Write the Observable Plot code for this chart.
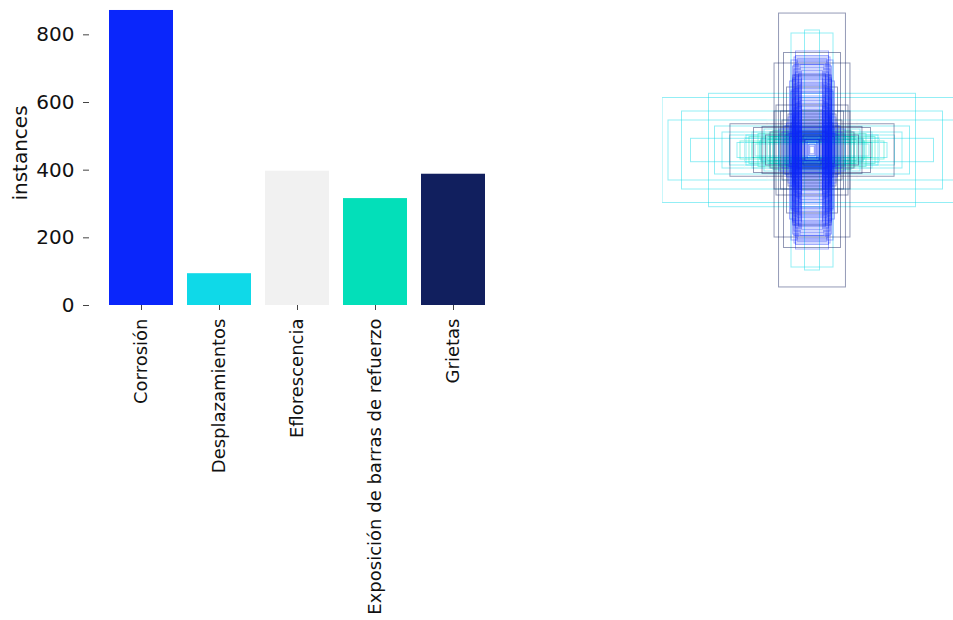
<!DOCTYPE html>
<html>
<head>
<meta charset="utf-8">
<script src="https://cdn.jsdelivr.net/npm/d3@7"></script>
<script src="https://cdn.jsdelivr.net/npm/@observablehq/plot@0.6"></script>
<style>
  html, body { margin: 0; padding: 0; background: #fff; overflow: hidden; }
  #wrap { position: relative; width: 953px; height: 620px; overflow: hidden; }
  #bars { position: absolute; left: 0; top: 0; width: 510px; }
  #boxes { position: absolute; left: 662px; top: 0; width: 300px; height: 300px; }
  #wrap svg { display: block; max-width: none; }
</style>
</head>
<body>
<div id="wrap"><div id="bars"></div><div id="boxes"></div></div>
<script>
// Label classes and their instance counts
const categories = ["Corrosión", "Desplazamientos", "Eflorescencia", "Exposición de barras de refuerzo", "Grietas"];
const instances = [872, 94, 397, 316, 388];
const classColors = ["#0a26fb", "#0fd9e8", "#f1f1f1", "#03dfb9", "#111f5e"];
const yTicks = [0, 200, 400, 600, 800];

// Bounding-box sizes (fraction of image width / height), all centred on the image
const boxClass = [
  // Desplazamientos
  1,1,1,1,1,1,1,1,1,1,1,1,1,1,1,1,1,1,1,1,1,1,1,1,1,1,
  // Exposición de barras de refuerzo
  3,3,3,3,3,3,3,3,3,3,
  // Eflorescencia
  2,2,2,2,
  // Grietas
  4,4,4,4,4,4,4,4,4,4,4,4,4,4,4,4,4,4,4,4,4,4,4,4,4,4,4,4,
  // Corrosión
  0,0,0,0,0,0,0,0,0,0,0,0,0,0,0,0,0,0,0,0,
  0,0,0,0,0,0,0,0,0,0,0,0,0,0,0,0,0,0,0,0,
  0,0,0,0,0,0,0,0,0,0,0,0,0,0,0,0,0,0,0,0,
  0,0,0,0,0,0,0,0,0,0,0,0,0,0,0,0,0,0,0,0,
  0,0,0,0,0,0,0,0
];
const boxW = [
  1.00, 0.69, 0.81, 0.96, 0.65, 0.05, 0.14, 0.55, 0.45, 0.40, 0.35, 0.30, 0.28, 0.25, 0.22, 0.20, 0.50, 0.60, 0.18, 0.32, 0.38, 0.87, 0.44, 0.34, 0.26, 0.16,
  0.42, 0.36, 0.30, 0.26, 0.48, 0.22, 0.34, 0.17, 0.40, 0.28,
  0.30, 0.20, 0.45, 0.15,
  0.223, 0.253, 0.19, 0.253, 0.39, 0.333, 0.547, 0.20, 0.16, 0.28, 0.24, 0.17, 0.12, 0.31, 0.10, 0.14, 0.08, 0.12, 0.18, 0.09, 0.21, 0.11,
  0.07, 0.06, 0.13, 0.15, 0.10, 0.05,
  0.12, 0.10, 0.09, 0.14, 0.08, 0.11, 0.13, 0.07, 0.10, 0.12, 0.09, 0.14, 0.08, 0.11, 0.13, 0.10, 0.07, 0.12, 0.09, 0.11,
  0.13, 0.08, 0.10, 0.12, 0.14, 0.09, 0.11, 0.16, 0.18, 0.20, 0.15, 0.17, 0.06, 0.05, 0.08, 0.10, 0.12, 0.22, 0.19, 0.13,
  0.15, 0.12, 0.09, 0.11, 0.10, 0.08, 0.12, 0.09, 0.11, 0.13, 0.10, 0.12, 0.14, 0.09, 0.08, 0.11, 0.10, 0.07, 0.12, 0.13,
  0.015, 0.025, 0.035, 0.045, 0.09, 0.16, 0.14, 0.12, 0.10, 0.08, 0.11, 0.13, 0.15, 0.09, 0.10, 0.12, 0.07, 0.11, 0.13, 0.08,
  0.02, 0.03, 0.04, 0.06, 0.07, 0.05, 0.09, 0.11
];
const boxH = [
  0.35, 0.378, 0.078, 0.20, 0.16, 0.80, 0.78, 0.10, 0.08, 0.12, 0.06, 0.09, 0.05, 0.07, 0.11, 0.06, 0.05, 0.12, 0.08, 0.14, 0.04, 0.26, 0.10, 0.07, 0.09, 0.05,
  0.09, 0.11, 0.07, 0.13, 0.06, 0.10, 0.08, 0.12, 0.05, 0.09,
  0.20, 0.30, 0.12, 0.40,
  0.913, 0.58, 0.65, 0.26, 0.15, 0.157, 0.175, 0.20, 0.24, 0.12, 0.30, 0.42, 0.50, 0.10, 0.14, 0.18, 0.10, 0.22, 0.16, 0.12, 0.26, 0.20,
  0.08, 0.10, 0.06, 0.09, 0.12, 0.07,
  0.62, 0.60, 0.58, 0.60, 0.55, 0.52, 0.50, 0.48, 0.45, 0.44, 0.42, 0.40, 0.38, 0.36, 0.34, 0.32, 0.30, 0.28, 0.26, 0.24,
  0.22, 0.20, 0.18, 0.16, 0.14, 0.13, 0.12, 0.11, 0.10, 0.12, 0.15, 0.18, 0.10, 0.08, 0.06, 0.07, 0.08, 0.14, 0.16, 0.56,
  0.46, 0.38, 0.50, 0.66, 0.59, 0.57, 0.54, 0.51, 0.49, 0.47, 0.43, 0.41, 0.39, 0.35, 0.33, 0.31, 0.29, 0.27, 0.25, 0.23,
  0.025, 0.035, 0.05, 0.07, 0.12, 0.22, 0.24, 0.21, 0.19, 0.17, 0.15, 0.13, 0.11, 0.09, 0.61, 0.57, 0.53, 0.63, 0.48, 0.44,
  0.04, 0.06, 0.08, 0.09, 0.11, 0.05, 0.07, 0.10
];

const font = "'DejaVu Sans', sans-serif";

// Instances per class
const barData = categories.map((c, i) => ({category: c, count: instances[i]}));
const bars = Plot.plot({
  width: 510,
  height: 620,
  marginLeft: 89,
  marginRight: 6,
  marginTop: 0,
  marginBottom: 315,
  style: {fontFamily: font, fontSize: "18px", color: "#111", background: "white", maxWidth: "none"},
  x: {domain: categories, paddingInner: 0.18, paddingOuter: 0.225},
  y: {domain: [0, 901.5]},
  color: {domain: categories, range: classColors},
  marks: [
    Plot.barY(barData, {x: "category", y: "count", fill: "category"}),
    Plot.axisX({tickRotate: -90, tickSize: 5, tickPadding: 8, label: null, stroke: "#444"}),
    Plot.axisY({ticks: yTicks, tickSize: 6, tickPadding: 9, stroke: "#444", fontSize: 20,
      label: "instances", labelAnchor: "center", labelArrow: "none", labelOffset: 77})
  ]
});
document.getElementById("bars").appendChild(bars);

// Box outlines, all centred at (0.5, 0.5) of the image
const boxData = boxClass.map((k, i) => ({
  cls: categories[k],
  x1: 0.5 - boxW[i] / 2, x2: 0.5 + boxW[i] / 2,
  y1: 0.5 - boxH[i] / 2, y2: 0.5 + boxH[i] / 2
}));
const boxes = Plot.plot({
  width: 300,
  height: 300,
  marginTop: 0, marginRight: 0, marginBottom: 0, marginLeft: 0,
  style: {background: "transparent", maxWidth: "none"},
  x: {domain: [0, 1], range: [0, 300], axis: null},
  y: {domain: [0, 1], range: [300, 0], axis: null},
  color: {domain: categories, range: classColors},
  marks: [
    Plot.rect(boxData, {x1: "x1", x2: "x2", y1: "y1", y2: "y2", stroke: "cls", fill: "none",
      strokeOpacity: (d) => d.cls === categories[0] ? 0.38 : 0.45, strokeWidth: 1})
  ]
});
document.getElementById("boxes").appendChild(boxes);
</script>
</body>
</html>
